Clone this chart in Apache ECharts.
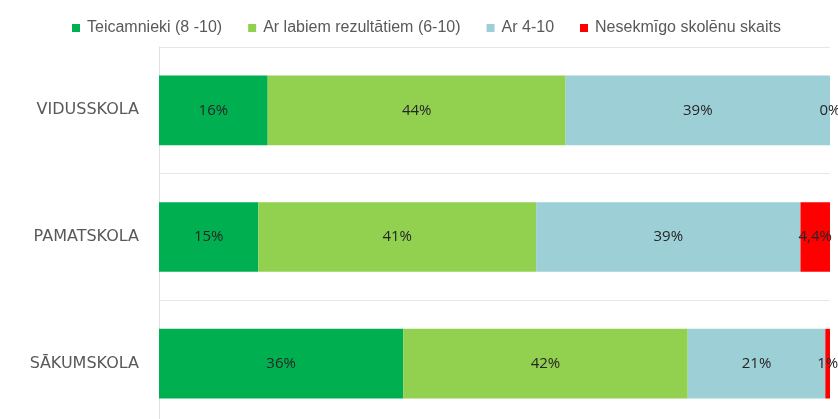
<!DOCTYPE html>
<html>
<head>
<meta charset="utf-8">
<script src="https://cdn.jsdelivr.net/npm/echarts@6/dist/echarts.min.js"></script>
<style>
  html, body { margin: 0; padding: 0; background: #fff; }
  #main { width: 838px; height: 419px; }
</style>
</head>
<body>
<div id="main"></div>
<script>
// skolu posmi (no augšas uz leju)
var categories = ['VIDUSSKOLA', 'PAMATSKOLA', 'SĀKUMSKOLA']
var seriesNames = ['Teicamnieki (8 -10)', 'Ar labiem rezultātiem (6-10)', 'Ar 4-10', 'Nesekmīgo skolēnu skaits']

// procenti
var teicamnieki = [16.2, 14.8, 36.4]
var labi = [44.4, 41.4, 42.4]
var ar410 = [39.4, 39.4, 20.5]
var nesekmigi = [0, 4.4, 0.7]

// uzraksti uz stabiņiem
var teicamniekiLabels = ['16%', '15%', '36%']
var labiLabels = ['44%', '41%', '42%']
var ar410Labels = ['39%', '39%', '21%']
var nesekmigiLabels = ['0%', '4,4%', '1%']

var colors = ['#00B050', '#92D050', '#9DCFD6', '#FF0000']

var chart = echarts.init(document.getElementById('main'))

function makeSeries(name, data, labels, color) {
  return {
    name: name,
    type: 'bar',
    stack: 'total',
    barWidth: '55%',
    itemStyle: { color: color },
    label: {
      show: true,
      position: 'inside',
      color: '#262626',
      fontFamily: 'Open Sans',
      fontSize: 15,
      formatter: function (p) { return labels[p.dataIndex] }
    },
    data: data
  }
}

chart.setOption({
  animation: false,
  legend: {
    left: 67,
    top: 15,
    icon: 'rect',
    itemWidth: 8,
    itemHeight: 8,
    itemGap: 26,
    textStyle: { color: '#595959', fontSize: 16, fontFamily: 'Liberation Sans', padding: [0, 0, 0, 2] },
    data: seriesNames
  },
  grid: {
    left: 159,
    right: 8,
    top: 47,
    height: 380,
    outerBoundsMode: 'none'
  },
  xAxis: {
    type: 'value',
    min: 0,
    max: 100,
    show: false
  },
  yAxis: {
    type: 'category',
    inverse: true,
    data: categories,
    axisLine: { show: true, lineStyle: { color: '#e0e0e0' } },
    axisTick: { show: false },
    splitLine: { show: true, lineStyle: { color: '#e6e6e6' } },
    axisLabel: {
      color: '#595959',
      fontSize: 16,
      fontFamily: 'DejaVu Sans',
      margin: 20
    }
  },
  series: [
    makeSeries(seriesNames[0], teicamnieki, teicamniekiLabels, colors[0]),
    makeSeries(seriesNames[1], labi, labiLabels, colors[1]),
    makeSeries(seriesNames[2], ar410, ar410Labels, colors[2]),
    makeSeries(seriesNames[3], nesekmigi, nesekmigiLabels, colors[3])
  ]
})
</script>
</body>
</html>
